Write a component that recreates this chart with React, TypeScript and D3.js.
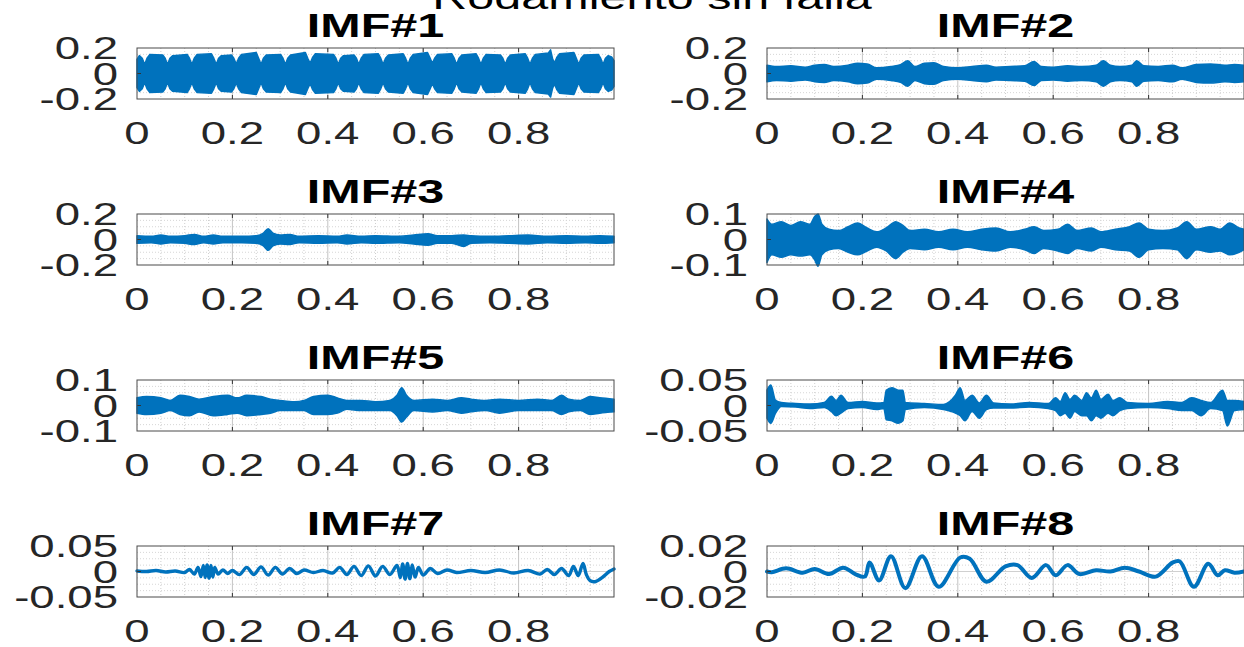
import React from 'react';
import * as d3 from 'd3';

// tick labels and titles
const xTicks = [0, 0.2, 0.4, 0.6, 0.8];
const titles = ['IMF#1', 'IMF#2', 'IMF#3', 'IMF#4', 'IMF#5', 'IMF#6', 'IMF#7', 'IMF#8'];
const yLimits = [0.2, 0.2, 0.2, 0.1, 0.1, 0.05, 0.05, 0.02];
const suptitle = 'Rodamiento sin falla';

// dense IMFs read as envelopes: [t, upper, lower]; [t, a] means a symmetric band ±a
const imf1 = [
  [0.0, 0.11], [0.005, 0.14], [0.011, 0.12], [0.016, 0.07],
  [0.021, 0.12], [0.027, 0.15], [0.054, 0.145], [0.059, 0.12], [0.064, 0.07],
  [0.069, 0.12], [0.075, 0.14], [0.105, 0.15], [0.11, 0.12], [0.115, 0.07],
  [0.12, 0.12], [0.126, 0.15], [0.156, 0.155], [0.161, 0.12], [0.166, 0.07],
  [0.171, 0.12], [0.177, 0.14], [0.198, 0.145], [0.203, 0.12], [0.208, 0.075],
  [0.213, 0.12], [0.219, 0.15], [0.25, 0.165], [0.255, 0.12], [0.26, 0.07],
  [0.265, 0.12], [0.271, 0.145], [0.301, 0.15], [0.306, 0.12], [0.311, 0.07],
  [0.316, 0.12], [0.322, 0.145], [0.353, 0.165], [0.358, 0.12], [0.363, 0.08],
  [0.368, 0.125], [0.374, 0.155], [0.412, 0.15], [0.417, 0.12], [0.422, 0.07],
  [0.427, 0.12], [0.433, 0.14], [0.455, 0.145], [0.46, 0.12], [0.465, 0.07],
  [0.47, 0.12], [0.476, 0.15], [0.506, 0.155], [0.511, 0.12], [0.516, 0.07],
  [0.521, 0.12], [0.527, 0.145], [0.558, 0.155], [0.563, 0.12], [0.568, 0.07],
  [0.573, 0.12], [0.579, 0.15], [0.609, 0.165], [0.614, 0.125], [0.619, 0.08],
  [0.624, 0.12], [0.63, 0.15], [0.66, 0.155], [0.665, 0.12], [0.67, 0.07],
  [0.675, 0.12], [0.681, 0.145], [0.711, 0.155], [0.716, 0.12], [0.721, 0.07],
  [0.726, 0.12], [0.732, 0.15], [0.762, 0.145], [0.767, 0.12], [0.772, 0.07],
  [0.777, 0.12], [0.783, 0.145], [0.814, 0.155], [0.819, 0.12], [0.824, 0.07],
  [0.829, 0.12], [0.835, 0.15], [0.862, 0.16], [0.867, 0.185], [0.871, 0.12], [0.875, 0.08],
  [0.88, 0.125], [0.886, 0.155], [0.916, 0.165], [0.921, 0.12], [0.926, 0.07],
  [0.931, 0.12], [0.937, 0.145], [0.967, 0.15], [0.972, 0.12], [0.977, 0.07],
  [0.982, 0.12], [0.988, 0.14], [0.995, 0.13], [1.0, 0.1],
];

const imf2 = [
  [0.0, 0.065], [0.02, 0.055], [0.05, 0.06], [0.08, 0.05], [0.1, 0.065], [0.12, 0.07], [0.14, 0.055],
  [0.17, 0.065], [0.19, 0.08], [0.21, 0.075], [0.23, 0.045], [0.26, 0.055], [0.28, 0.07], [0.295, 0.1],
  [0.31, 0.055], [0.33, 0.08], [0.35, 0.085], [0.37, 0.055], [0.4, 0.045], [0.43, 0.055], [0.46, 0.065],
  [0.48, 0.05], [0.51, 0.055], [0.54, 0.06], [0.56, 0.095], [0.575, 0.055], [0.6, 0.05], [0.63, 0.06],
  [0.66, 0.055], [0.69, 0.065], [0.705, 0.1], [0.72, 0.065], [0.74, 0.055], [0.765, 0.065], [0.775, 0.1],
  [0.79, 0.06], [0.82, 0.055], [0.85, 0.065], [0.87, 0.045], [0.9, 0.07], [0.93, 0.075], [0.96, 0.065],
  [0.98, 0.07], [1.0, 0.065],
];

const imf3 = [
  [0.0, 0.03], [0.03, 0.025], [0.05, 0.035], [0.07, 0.025], [0.1, 0.03], [0.12, 0.04], [0.14, 0.025],
  [0.16, 0.035], [0.18, 0.025], [0.22, 0.025], [0.25, 0.03], [0.265, 0.05], [0.275, 0.085], [0.285, 0.05],
  [0.3, 0.035], [0.32, 0.04], [0.34, 0.025], [0.38, 0.03], [0.42, 0.025], [0.44, 0.035], [0.47, 0.025],
  [0.5, 0.03], [0.55, 0.025], [0.58, 0.035], [0.61, 0.045], [0.63, 0.03], [0.66, 0.03], [0.685, 0.035, -0.055],
  [0.7, 0.03], [0.74, 0.025], [0.78, 0.03], [0.82, 0.035], [0.86, 0.025], [0.9, 0.03], [0.94, 0.025],
  [0.97, 0.03], [1.0, 0.025],
];

const imf4 = [
  [0.0, 0.08, -0.09], [0.01, 0.06, -0.06], [0.03, 0.07, -0.07], [0.05, 0.055, -0.06], [0.07, 0.07, -0.065],
  [0.09, 0.06, -0.06], [0.1, 0.09, -0.08], [0.107, 0.1, -0.105], [0.115, 0.06, -0.06], [0.13, 0.04, -0.04],
  [0.15, 0.035, -0.035], [0.17, 0.05, -0.05], [0.19, 0.065, -0.06], [0.21, 0.045, -0.045], [0.23, 0.03, -0.03],
  [0.25, 0.045, -0.045], [0.27, 0.07, -0.075], [0.285, 0.055, -0.05], [0.3, 0.035, -0.035], [0.33, 0.04, -0.04],
  [0.36, 0.03, -0.03], [0.39, 0.04, -0.04], [0.42, 0.03, -0.03], [0.45, 0.04, -0.04], [0.48, 0.045, -0.045],
  [0.51, 0.03, -0.03], [0.54, 0.04, -0.04], [0.56, 0.05, -0.055], [0.58, 0.035, -0.035], [0.61, 0.04, -0.045],
  [0.63, 0.06, -0.055], [0.65, 0.035, -0.035], [0.68, 0.045, -0.045], [0.7, 0.03, -0.03], [0.73, 0.04, -0.04],
  [0.76, 0.05, -0.045], [0.78, 0.065, -0.07], [0.8, 0.04, -0.04], [0.83, 0.035, -0.035], [0.86, 0.045, -0.04],
  [0.88, 0.07, -0.075], [0.9, 0.04, -0.04], [0.93, 0.05, -0.05], [0.95, 0.04, -0.045], [0.97, 0.065, -0.06],
  [0.99, 0.045, -0.05], [1.0, 0.04, -0.04],
];

const imf5 = [
  [0.0, 0.03, -0.03], [0.02, 0.035, -0.035], [0.05, 0.03, -0.03], [0.07, 0.02, -0.02], [0.09, 0.04, -0.035],
  [0.11, 0.035, -0.04], [0.13, 0.025, -0.025], [0.16, 0.035, -0.04], [0.19, 0.04, -0.035], [0.21, 0.03, -0.03],
  [0.23, 0.04, -0.04], [0.26, 0.035, -0.035], [0.28, 0.025, -0.03], [0.3, 0.02, -0.02], [0.33, 0.015, -0.02],
  [0.35, 0.02, -0.02], [0.37, 0.035, -0.035], [0.4, 0.04, -0.035], [0.42, 0.03, -0.03], [0.44, 0.02, -0.015],
  [0.47, 0.02, -0.02], [0.5, 0.015, -0.02], [0.53, 0.02, -0.02], [0.545, 0.04, -0.04], [0.555, 0.07, -0.065],
  [0.565, 0.04, -0.045], [0.58, 0.02, -0.02], [0.62, 0.025, -0.025], [0.65, 0.02, -0.02], [0.68, 0.03, -0.03],
  [0.7, 0.025, -0.025], [0.73, 0.02, -0.02], [0.76, 0.025, -0.03], [0.8, 0.02, -0.02], [0.84, 0.025, -0.02],
  [0.87, 0.02, -0.02], [0.89, 0.04, -0.035], [0.905, 0.025, -0.025], [0.93, 0.02, -0.02], [0.95, 0.035, -0.035],
  [0.97, 0.03, -0.03], [1.0, 0.025, -0.025],
];

const imf6 = [
  [0.0, 0.03, -0.025], [0.008, 0.04, -0.035], [0.018, 0.01, -0.015], [0.03, 0.006, -0.002], [0.06, 0.004, -0.003],
  [0.09, 0.003, -0.006], [0.12, 0.006, -0.004], [0.135, 0.018, -0.012], [0.145, 0.01, -0.02], [0.155, 0.02, -0.015],
  [0.17, 0.006, -0.006], [0.2, 0.008, -0.004], [0.23, 0.005, -0.008], [0.245, 0.006, -0.006], [0.25, 0.03, -0.028],
  [0.262, 0.035, -0.03], [0.275, 0.03, -0.035], [0.285, 0.03, -0.03], [0.29, 0.006, -0.008], [0.33, 0.004, -0.004],
  [0.37, 0.002, -0.008], [0.395, 0.02, -0.015], [0.405, 0.035, -0.02], [0.415, 0.01, -0.03], [0.43, 0.02, -0.012],
  [0.445, 0.005, -0.025], [0.46, 0.02, -0.008], [0.475, 0.005, -0.005], [0.51, 0.003, -0.005], [0.55, 0.006, -0.003],
  [0.59, 0.004, -0.006], [0.605, 0.015, -0.01], [0.615, 0.008, -0.02], [0.625, 0.025, -0.015], [0.635, 0.012, -0.025],
  [0.645, 0.02, -0.012], [0.66, 0.01, -0.02], [0.67, 0.025, -0.02], [0.68, 0.015, -0.03], [0.69, 0.03, -0.02],
  [0.7, 0.012, -0.025], [0.715, 0.022, -0.015], [0.725, 0.01, -0.02], [0.74, 0.015, -0.01], [0.755, 0.006, -0.006],
  [0.8, 0.004, -0.004], [0.84, 0.008, -0.006], [0.87, 0.006, -0.01], [0.89, 0.015, -0.01], [0.91, 0.01, -0.02],
  [0.93, 0.006, -0.006], [0.955, 0.03, -0.01], [0.965, 0.01, -0.04], [0.98, 0.01, -0.01], [1.0, 0.008, -0.008],
];

// smoother IMFs read as waypoints: [t, value]
const imf7 = [
  [0.0, 0.001], [0.02, 0.0], [0.04, 0.002], [0.06, -0.001], [0.08, 0.001], [0.1, -0.002], [0.11, 0.004],
  [0.12, -0.005], [0.128, 0.008], [0.134, -0.01], [0.139, 0.012], [0.143, -0.012], [0.147, 0.013], [0.151, -0.013],
  [0.155, 0.012], [0.159, -0.011], [0.163, 0.008], [0.17, -0.005], [0.18, 0.003], [0.19, -0.004], [0.2, 0.002],
  [0.215, -0.006], [0.23, 0.008], [0.245, -0.006], [0.26, 0.009], [0.275, -0.007], [0.29, 0.008], [0.305, -0.005],
  [0.32, 0.006], [0.335, -0.004], [0.35, 0.003], [0.37, -0.002], [0.39, 0.002], [0.41, -0.003], [0.425, 0.008],
  [0.44, -0.006], [0.455, 0.01], [0.47, -0.008], [0.485, 0.011], [0.5, -0.009], [0.515, 0.01], [0.53, -0.006],
  [0.545, 0.012], [0.552, -0.012], [0.557, 0.015], [0.562, -0.015], [0.567, 0.016], [0.572, -0.014],
  [0.577, 0.013], [0.583, -0.011], [0.59, 0.008], [0.6, -0.007], [0.615, 0.006], [0.63, -0.004], [0.65, 0.003],
  [0.67, -0.002], [0.7, 0.002], [0.73, -0.002], [0.76, 0.003], [0.79, -0.003], [0.82, 0.002], [0.845, -0.005],
  [0.86, 0.004], [0.875, -0.006], [0.89, 0.006], [0.905, -0.008], [0.915, 0.01], [0.925, -0.008], [0.935, 0.016],
  [0.942, -0.006], [0.95, -0.018], [0.96, -0.02], [0.975, -0.012], [0.99, 0.0], [1.0, 0.005],
];

const imf8 = [
  [0.0, 0.0], [0.01, -0.0005], [0.04, 0.0025], [0.075, -0.001], [0.1, 0.002], [0.13, -0.002], [0.16, 0.003],
  [0.185, -0.002], [0.205, -0.004], [0.215, 0.007], [0.235, -0.007], [0.26, 0.012], [0.29, -0.013], [0.325, 0.012],
  [0.36, -0.012], [0.405, 0.011], [0.425, 0.01], [0.46, -0.008], [0.5, 0.004], [0.525, 0.005], [0.555, -0.005],
  [0.585, 0.005], [0.605, -0.003], [0.63, 0.005], [0.655, -0.002], [0.69, 0.001], [0.72, 0.0], [0.75, 0.003],
  [0.78, 0.0], [0.815, -0.004], [0.85, 0.007], [0.865, 0.008], [0.895, -0.012], [0.925, 0.006], [0.945, -0.003],
  [0.96, 0.001], [0.98, -0.001], [1.0, 0.0],
];

const bands = [imf1, imf2, imf3, imf4, imf5, imf6];
const lines = [imf7, imf8];

const FONT = '"Liberation Sans", Arial, Helvetica, sans-serif';
const SX = 1.47; // the source figure is stretched horizontally
const BLUE = '#0072BD';
const COL_X = [137, 767];
const ROW_Y = [48, 214, 380, 546];
const W = 477;
const H = 51;

function Panel({ idx }: { idx: number }) {
  const col = idx % 2;
  const row = Math.floor(idx / 2);
  const left = COL_X[col];
  const top = ROW_Y[row];
  const lim = yLimits[idx];

  const x = d3.scaleLinear().domain([0, 1]).range([left, left + W]);
  const y = d3.scaleLinear().domain([-lim, lim]).range([top + H, top]);
  const yTicks = [lim, 0, -lim];

  const majorX = [0.2, 0.4, 0.6, 0.8];
  const minorX = d3.range(1, 20).map(i => i / 20).filter(v => !majorX.some(m => Math.abs(m - v) < 1e-6));
  const minorY = d3.range(1, 8).map(i => -lim + (i * lim) / 4).filter(v => Math.abs(v) > 1e-9);

  let mark: React.ReactNode;
  if (idx < 6) {
    const area = d3.area<number[]>()
      .x(d => x(d[0]))
      .y0(d => y(d.length > 2 ? d[2] : -d[1]))
      .y1(d => y(d[1]))
      .curve(idx === 0 ? d3.curveLinear : d3.curveMonotoneX);
    mark = <path d={area(bands[idx]) || ''} fill={BLUE} stroke={BLUE} strokeWidth={1.5} strokeLinejoin="round" />;
  } else {
    const line = d3.line<number[]>()
      .x(d => x(d[0]))
      .y(d => y(d[1]))
      .curve(d3.curveCatmullRom.alpha(0.5));
    mark = <path d={line(lines[idx - 6]) || ''} fill="none" stroke={BLUE} strokeWidth={idx === 7 ? 4 : 3.4}
      strokeLinejoin="round" strokeLinecap="round" />;
  }

  return (
    <g>
      <rect x={left} y={top} width={W} height={H} fill="#fff" />
      {minorX.map(v => (
        <line key={'mx' + v} x1={x(v)} x2={x(v)} y1={top} y2={top + H} stroke="#cfcfcf" strokeWidth={1} strokeDasharray="1 2" />
      ))}
      {minorY.map(v => (
        <line key={'my' + v} x1={left} x2={left + W} y1={y(v)} y2={y(v)} stroke="#d6d6d6" strokeWidth={1} strokeDasharray="1 2" />
      ))}
      {majorX.map(v => (
        <line key={'gx' + v} x1={x(v)} x2={x(v)} y1={top} y2={top + H} stroke="#c4c4c4" strokeWidth={1} />
      ))}
      <line x1={left} x2={left + W} y1={y(0)} y2={y(0)} stroke="#d0d0d0" strokeWidth={1} />
      {mark}
      {majorX.map(v => (
        <g key={'tk' + v}>
          <line x1={x(v)} x2={x(v)} y1={top} y2={top + 4} stroke="#333" />
          <line x1={x(v)} x2={x(v)} y1={top + H} y2={top + H - 4} stroke="#333" />
        </g>
      ))}
      <line x1={left} x2={left + 4} y1={y(0)} y2={y(0)} stroke="#333" />
      <rect x={left} y={top} width={W} height={H} fill="none" stroke="#4a4a4a" strokeWidth={1} />
      {yTicks.map(v => (
        <text key={'yl' + v} transform={`translate(${left - 19},${y(v)}) scale(${SX},1)`} textAnchor="end" dy="0.36em"
          fontSize={31} fontFamily={FONT} fill="#262626">{String(v)}</text>
      ))}
      {xTicks.map(v => (
        <text key={'xl' + v} transform={`translate(${x(v)},${top + H + 45}) scale(${SX},1)`} textAnchor="middle"
          fontSize={31} fontFamily={FONT} fill="#262626">{String(v)}</text>
      ))}
      <text transform={`translate(${left + W / 2},${top - 11}) scale(${SX},1)`} textAnchor="middle"
        fontSize={33} fontWeight="bold" fontFamily={FONT} fill="#000">{titles[idx]}</text>
    </g>
  );
}

export default function App() {
  return (
    <svg width={1244} height={647} style={{ position: 'absolute', left: 0, top: 0, background: '#fff' }}>
      <rect width={1244} height={647} fill="#fff" />
      <text transform={`translate(652,9) scale(${SX},1)`} textAnchor="middle" fontSize={33} fontFamily={FONT} fill="#000">
        {suptitle}
      </text>
      {titles.map((t, i) => <Panel key={t} idx={i} />)}
    </svg>
  );
}
